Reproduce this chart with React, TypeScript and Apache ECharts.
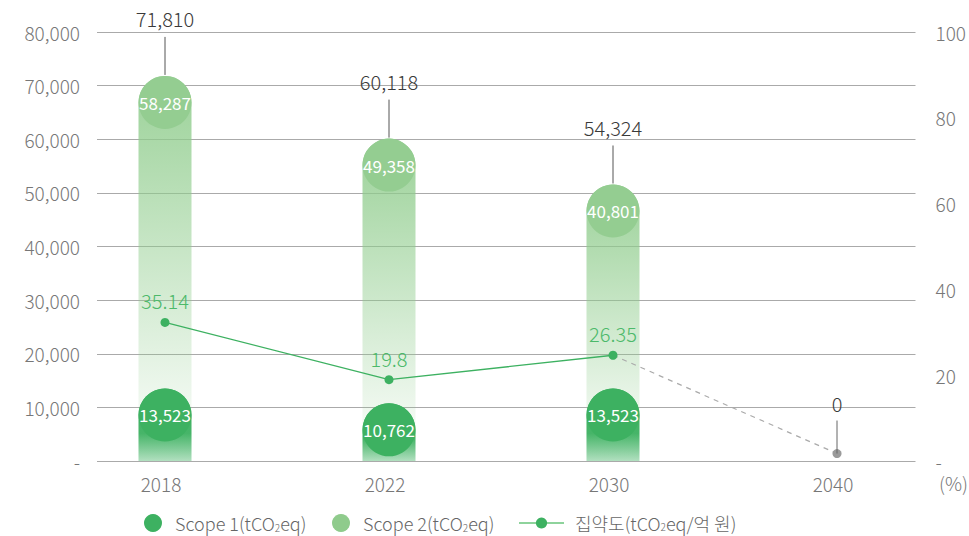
import React, { useEffect, useRef } from "react";
import * as echarts from "echarts";

// ---- data ----
const years = ["2018", "2022", "2030", "2040"];
const scope1 = [13523, 10762, 13523];
const scope2 = [58287, 49358, 40801];
const totalLabels = [71810, 60118, 54324];
// top of the stacked column as drawn in the picture
const barTop = [71810, 60118, 51563];
const intensity = [35.14, 19.8, 26.35, 0];
const leftTicks = { min: 0, max: 80000, interval: 10000 };
const rightTicks = { min: 0, max: 100, interval: 20 };

const FONT = "'Noto Sans CJK KR', 'Noto Sans', sans-serif";
const W = 300;
const fmt = (v: number) => v.toLocaleString("en-US");

const richName = (name: string) => {
  const [a, b] = name.split("CO2");
  return `{t|${a}CO}{s|2}{t|${b}}`;
};
const legendRich = {
  t: { fontSize: 18, color: "#666", fontFamily: FONT, fontWeight: W, lineHeight: 22, verticalAlign: "middle" },
  s: { fontSize: 10, color: "#666", fontFamily: FONT, fontWeight: W, lineHeight: 22, verticalAlign: "bottom", padding: [0, 0, 2, 0] },
};

const S1 = "Scope 1(tCO2eq)";
const S2 = "Scope 2(tCO2eq)";
const LN = "집약도(tCO2eq/억 원)";

export default function App() {
  const ref = useRef<HTMLDivElement>(null);
  useEffect(() => {
    if (!ref.current) return;
    const chart = echarts.init(ref.current, null, { renderer: "svg" });
    const barW = 53;
    const option: any = {
      animation: false,
      textStyle: { fontFamily: FONT, fontWeight: W },
      grid: [
        { left: 97, right: 49, top: 32, bottom: 75 },
        { left: 53, right: 20, top: 32, bottom: 75 },
      ],
      xAxis: [
        { type: "value", gridIndex: 0, show: false, min: 0, max: 1 },
        {
          type: "category",
          gridIndex: 1,
          data: years,
          axisLine: { show: false },
          axisTick: { show: false },
          axisLabel: {
            color: "#777",
            fontSize: 19,
            margin: 13,
            fontFamily: FONT,
            fontWeight: W,
            padding: [0, 8, 0, 0],
          },
        },
      ],
      yAxis: [
        {
          type: "value",
          gridIndex: 0,
          position: "left",
          ...leftTicks,
          axisLine: { show: false },
          axisTick: { show: false },
          splitLine: { lineStyle: { color: "#aaa", width: 1 } },
          axisLabel: {
            color: "#777",
            fontSize: 19,
            margin: 17,
            fontFamily: FONT,
            fontWeight: W,
            formatter: (v: number) => (v === 0 ? "-" : fmt(v)),
          },
        },
        {
          type: "value",
          gridIndex: 0,
          position: "right",
          ...rightTicks,
          axisLine: { show: false },
          axisTick: { show: false },
          splitLine: { show: false },
          axisLabel: {
            color: "#777",
            fontSize: 19,
            margin: 20,
            fontFamily: FONT,
            fontWeight: W,
            formatter: (v: number) => (v === 0 ? "-" : String(v)),
          },
        },
        { type: "value", gridIndex: 1, show: false, ...leftTicks },
        { type: "value", gridIndex: 1, show: false, min: -2, max: 113 },
      ],
      legend: [
        {
          left: 139,
          top: 509,
          data: [{ name: S1, icon: "circle", itemStyle: { color: "#3db161" } }],
          itemWidth: 18,
          itemHeight: 18,
          selectedMode: false,
          formatter: richName,
          textStyle: { padding: [0, 0, 0, 8], rich: legendRich },
        },
        {
          left: 327,
          top: 509,
          data: [{ name: S2, icon: "circle", itemStyle: { color: "#8fcb8c" } }],
          itemWidth: 18,
          itemHeight: 18,
          selectedMode: false,
          formatter: richName,
          textStyle: { padding: [0, 0, 0, 8], rich: legendRich },
        },
        {
          left: 513,
          top: 509,
          data: [
            {
              name: LN,
              lineStyle: { color: "#8ed39c", width: 2 },
              itemStyle: { color: "#3db161" },
            },
          ],
          itemWidth: 45,
          itemHeight: 14,
          selectedMode: false,
          formatter: richName,
          textStyle: { padding: [0, 0, 0, 6], rich: legendRich },
        },
      ],
      graphic: [
        {
          type: "text",
          left: 939,
          top: 473,
          style: { text: "(%)", fontSize: 19, fill: "#777", fontFamily: FONT, fontWeight: W },
        },
      ],
      series: [
        {
          type: "bar",
          name: "s2bar",
          xAxisIndex: 1,
          yAxisIndex: 2,
          data: barTop,
          barWidth: barW,
          barGap: "-100%",
          z: 2,
          itemStyle: {
            borderRadius: [barW / 2, barW / 2, 0, 0],
            color: new echarts.graphic.LinearGradient(0, 0, 0, 1, [
              { offset: 0, color: "rgba(143,204,140,0.9)" },
              { offset: 1, color: "rgba(143,204,140,0)" },
            ]),
          },
        },
        {
          type: "bar",
          name: "s1bar",
          xAxisIndex: 1,
          yAxisIndex: 2,
          data: scope1,
          barWidth: barW,
          barGap: "-100%",
          z: 2,
          itemStyle: {
            borderRadius: [barW / 2, barW / 2, 0, 0],
            color: new echarts.graphic.LinearGradient(0, 0, 0, 1, [
              { offset: 0, color: "rgba(61,177,97,1)" },
              { offset: 0.62, color: "rgba(61,177,97,0.95)" },
              { offset: 1, color: "rgba(61,177,97,0.4)" },
            ]),
          },
        },
        {
          type: "scatter",
          name: S2,
          xAxisIndex: 1,
          yAxisIndex: 2,
          data: barTop,
          symbolSize: barW,
          symbolOffset: [0, "50%"],
          z: 3,
          itemStyle: { color: "#94cd91", opacity: 1 },
          label: {
            show: true,
            position: "inside",
            color: "#fff",
            fontSize: 17,
            fontFamily: FONT,
            fontWeight: 400,
            formatter: (p: any) => fmt(scope2[p.dataIndex]),
          },
        },
        {
          type: "scatter",
          name: S1,
          xAxisIndex: 1,
          yAxisIndex: 2,
          data: scope1,
          symbolSize: barW,
          symbolOffset: [0, "50%"],
          z: 3,
          itemStyle: { color: "#3db161", opacity: 1 },
          label: {
            show: true,
            position: "inside",
            color: "#fff",
            fontSize: 17,
            fontFamily: FONT,
            fontWeight: 400,
            formatter: (p: any) => fmt(scope1[p.dataIndex]),
          },
        },
        {
          type: "line",
          name: "dash",
          xAxisIndex: 1,
          yAxisIndex: 3,
          z: 4,
          data: intensity.map((v, i) =>
            i < 2
              ? "-"
              : i === 2
              ? { value: v, symbol: "none" }
              : { value: v, symbol: "circle", symbolSize: 9, itemStyle: { color: "#9a9a9a" } }
          ),
          showAllSymbol: true,
          lineStyle: { color: "#aaa", width: 1.2, type: [5, 5] },
          itemStyle: { color: "#9a9a9a" },
        },
        {
          type: "line",
          name: LN,
          xAxisIndex: 1,
          yAxisIndex: 3,
          z: 5,
          data: intensity.map((v, i) => (i < 3 ? v : "-")),
          symbol: "circle",
          symbolSize: 9,
          lineStyle: { color: "#3db161", width: 1.3 },
          itemStyle: { color: "#3db161" },
          label: {
            show: true,
            position: "top",
            distance: 7,
            color: "#4cb96a",
            fontSize: 20,
            fontFamily: FONT,
            fontWeight: W,
          },
        },
        {
          type: "custom",
          name: "totals",
          xAxisIndex: 1,
          yAxisIndex: 2,
          z: 6,
          data: barTop.map((v, i) => [i, v]),
          renderItem: (params: any, api: any) => {
            const p = api.coord([api.value(0), api.value(1)]);
            return {
              type: "group",
              children: [
                {
                  type: "line",
                  shape: { x1: p[0], y1: p[1] - 1, x2: p[0], y2: p[1] - 39 },
                  style: { stroke: "#555", lineWidth: 1 },
                },
                {
                  type: "text",
                  x: p[0],
                  y: p[1] - 57,
                  style: {
                    text: fmt(totalLabels[params.dataIndex]),
                    fill: "#3a3a3a",
                    fontSize: 20,
                    fontFamily: FONT,
                    fontWeight: W,
                    align: "center",
                    verticalAlign: "middle",
                  },
                },
              ],
            };
          },
        },
        {
          type: "custom",
          name: "zero",
          xAxisIndex: 1,
          yAxisIndex: 3,
          z: 6,
          data: [[3, intensity[3]]],
          renderItem: (params: any, api: any) => {
            const p = api.coord([api.value(0), api.value(1)]);
            return {
              type: "group",
              children: [
                {
                  type: "line",
                  shape: { x1: p[0], y1: p[1], x2: p[0], y2: p[1] - 33 },
                  style: { stroke: "#666", lineWidth: 1 },
                },
                {
                  type: "text",
                  x: p[0],
                  y: p[1] - 50,
                  style: {
                    text: String(api.value(1)),
                    fill: "#3a3a3a",
                    fontSize: 20,
                    fontFamily: FONT,
                    fontWeight: W,
                    align: "center",
                    verticalAlign: "middle",
                  },
                },
              ],
            };
          },
        },
      ],
    };
    chart.setOption(option);
    return () => chart.dispose();
  }, []);
  return (
    <div
      ref={ref}
      style={{ position: "absolute", left: 0, top: 0, width: 969, height: 536, background: "#fff" }}
    />
  );
}
